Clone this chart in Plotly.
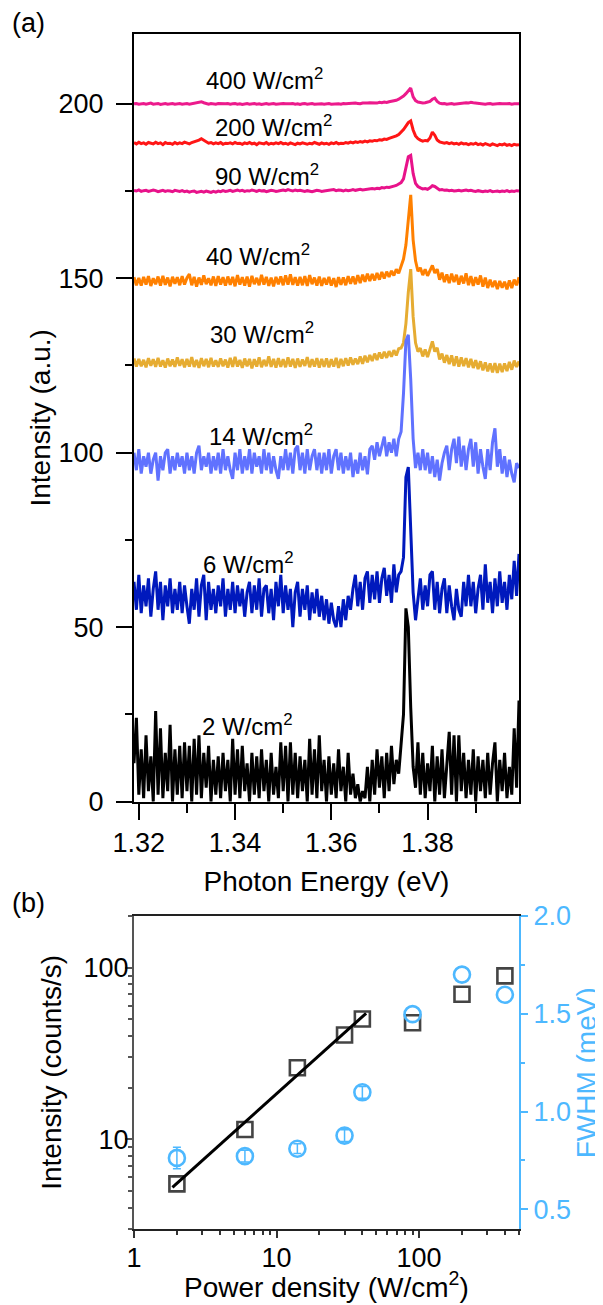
import numpy as np
import plotly.graph_objects as go

# ---------------- (a) PL spectra ----------------
# photon-energy sampling grid of the spectra (eV)
energy = np.linspace(1.319, 1.399, 161)

spec_400 = [
    200.0, 200.1, 199.9, 200.0, 200.1, 199.9, 200.0, 200.2, 199.9, 200.0, 200.1, 199.8, 200.0, 200.1, 199.9, 200.0, 200.1, 199.9, 200.0, 200.1,
    199.9, 200.0, 200.1, 199.9, 200.0, 200.1, 200.2, 200.4, 200.6, 200.3, 200.0, 199.9, 200.1, 200.0, 199.9, 200.1, 200.0, 199.9, 200.0, 200.1,
    199.9, 200.0, 200.1, 199.9, 200.0, 199.8, 200.0, 200.1, 199.9, 200.0, 200.1, 199.9, 200.0, 199.8, 200.0, 200.1, 199.9, 200.0, 200.1, 199.9,
    200.0, 199.9, 200.1, 200.0, 199.9, 200.0, 200.1, 199.9, 200.0, 199.8, 200.0, 200.1, 199.9, 200.0, 200.1, 199.9, 200.0, 200.1, 200.0, 199.9,
    200.0, 200.1, 199.9, 200.0, 200.1, 200.0, 199.9, 200.1, 200.0, 200.1, 200.0, 200.1, 200.2, 200.1, 200.0, 200.2, 200.1, 200.2, 200.3, 200.2,
    200.3, 200.2, 200.4, 200.3, 200.5, 200.4, 200.6, 200.7, 200.8, 201.0, 201.3, 201.7, 202.2, 202.9, 203.7, 204.5, 202.0, 200.9, 200.5, 200.3,
    200.2, 200.3, 200.4, 200.7, 201.3, 201.6, 200.7, 200.2, 200.0, 200.1, 199.9, 200.0, 200.1, 199.9, 200.0, 200.1, 200.2, 200.1, 200.3, 200.2,
    200.4, 200.3, 200.2, 200.1, 200.0, 200.1, 199.9, 200.0, 200.1, 199.9, 200.0, 199.9, 200.1, 200.0, 199.9, 200.0, 200.1, 199.9, 200.0, 199.9,
    200.0]

spec_200 = [
    188.9, 188.5, 189.0, 188.6, 188.8, 188.4, 188.9, 188.7, 188.5, 189.0, 188.6, 188.8, 188.3, 188.9, 188.6, 188.7, 188.4, 188.9, 188.5, 188.8,
    188.6, 189.0, 188.7, 188.5, 188.9, 189.1, 189.3, 189.6, 190.0, 189.5, 189.0, 188.7, 188.9, 188.5, 188.8, 188.6, 188.9, 188.4, 188.7, 188.6,
    188.8, 188.5, 188.9, 188.6, 188.7, 188.4, 188.8, 188.6, 188.9, 188.5, 188.7, 188.3, 188.8, 188.6, 188.5, 188.9, 188.4, 188.7, 188.5, 188.8,
    188.6, 188.9, 188.5, 188.7, 188.4, 188.8, 188.6, 188.3, 188.7, 188.5, 188.8, 188.6, 188.4, 188.7, 188.5, 188.9, 188.6, 188.4, 188.8, 188.5,
    188.7, 188.4, 188.8, 188.6, 188.9, 188.5, 188.7, 188.6, 188.9, 188.7, 189.0, 188.8, 189.1, 188.9, 189.2, 189.0, 189.3, 189.1, 189.4, 189.3,
    189.5, 189.4, 189.7, 189.6, 189.9, 189.8, 190.1, 190.3, 190.5, 190.8, 191.2, 191.8, 192.6, 193.6, 194.6, 195.1, 192.5, 190.8, 190.0, 189.6,
    189.3, 189.5, 189.4, 190.2, 191.9, 191.0, 189.6, 189.1, 188.9, 188.7, 188.9, 188.6, 188.8, 188.5, 188.7, 188.4, 188.8, 188.5, 188.6, 188.3,
    188.6, 188.4, 188.7, 188.3, 188.5, 188.2, 188.6, 188.4, 188.1, 188.5, 188.3, 188.0, 188.4, 188.2, 188.5, 188.1, 188.3, 188.0, 188.4, 188.2,
    188.3]

spec_90 = [
    175.2, 175.0, 175.3, 174.9, 175.1, 175.2, 174.9, 175.0, 175.3, 175.1, 174.8, 175.0, 175.2, 174.9, 175.1, 175.0, 174.8, 175.2, 175.0, 174.9,
    175.1, 174.8, 175.0, 174.7, 174.9, 175.0, 174.6, 174.8, 174.9, 174.7, 175.0, 174.8, 174.6, 174.9, 174.7, 175.0, 174.8, 175.1, 174.9, 175.0,
    175.2, 174.9, 175.1, 175.3, 175.0, 175.2, 174.9, 175.1, 175.0, 175.3, 175.1, 174.9, 175.2, 175.0, 175.1, 174.8, 175.0, 175.2, 175.1, 174.9,
    175.0, 175.2, 175.3, 175.1, 175.4, 175.2, 175.0, 175.3, 175.1, 175.2, 175.0, 174.9, 175.1, 175.0, 174.8, 175.0, 175.2, 175.1, 174.9, 175.0,
    175.1, 175.3, 175.2, 175.4, 175.1, 175.3, 175.2, 175.0, 175.3, 175.1, 175.2, 175.4, 175.2, 175.3, 175.5, 175.3, 175.4, 175.6, 175.5, 175.7,
    175.6, 175.8, 175.7, 176.0, 175.9, 176.1, 176.0, 176.3, 176.4, 176.6, 176.9, 177.4, 178.5, 181.5, 184.8, 185.2, 180.0, 177.2, 176.3, 175.9,
    175.6, 175.7, 175.5, 175.9, 176.5, 176.3, 175.7, 175.3, 175.4, 175.2, 175.3, 175.1, 175.2, 175.0, 175.1, 175.2, 175.0, 175.1, 175.3, 175.1,
    175.2, 175.0, 174.9, 175.1, 175.0, 174.8, 175.0, 174.9, 175.1, 174.8, 174.9, 175.0, 174.8, 175.0, 174.9, 175.1, 174.8, 175.0, 174.9, 175.1,
    175.0]

spec_40 = [
    150.3, 148.0, 150.1, 147.9, 150.4, 148.2, 150.6, 147.8, 150.0, 148.3, 150.5, 147.9, 150.7, 148.1, 150.2, 147.7, 150.4, 148.4, 150.3, 148.0,
    150.6, 148.2, 150.1, 151.2, 148.0, 150.4, 147.6, 150.2, 148.1, 150.8, 148.3, 150.0, 148.0, 150.5, 147.8, 150.6, 148.2, 150.3, 147.9, 150.5,
    148.1, 150.4, 147.7, 150.9, 148.2, 150.3, 147.9, 150.5, 147.6, 150.7, 148.3, 150.1, 148.0, 151.0, 148.2, 150.4, 147.8, 150.2, 147.7, 150.4,
    148.3, 150.5, 148.0, 150.8, 148.2, 151.1, 148.1, 150.3, 147.9, 150.4, 148.0, 150.6, 147.8, 150.9, 148.3, 150.2, 147.9, 150.5, 147.8, 150.1,
    148.2, 150.4, 147.9, 150.0, 147.5, 150.3, 148.1, 150.2, 148.0, 150.6, 148.4, 150.5, 148.3, 150.9, 148.6, 151.0, 149.0, 151.3, 149.2, 151.2,
    149.4, 151.5, 149.6, 151.8, 149.9, 151.9, 150.4, 152.1, 150.8, 152.6, 151.4, 153.2, 155.5, 159.5, 168.0, 173.9, 161.0, 155.0, 152.0, 153.0,
    150.9, 152.6, 150.7, 152.4, 153.7, 151.5, 152.6, 149.6, 151.6, 148.9, 151.1, 148.6, 151.3, 148.9, 151.0, 148.2, 150.7, 148.5, 151.4, 148.0,
    150.6, 147.8, 150.3, 148.2, 150.8, 147.6, 150.2, 147.2, 149.6, 147.5, 149.3, 146.9, 149.2, 147.3, 149.0, 146.8, 149.4, 147.2, 149.6, 148.0,
    150.3]

spec_30 = [
    127.0, 124.7, 126.9, 124.8, 126.6, 124.5, 127.1, 124.9, 126.8, 124.6, 127.2, 124.7, 126.5, 124.4, 127.0, 124.8, 126.7, 124.6, 127.3, 124.9,
    126.8, 124.5, 126.9, 124.7, 127.4, 124.6, 126.6, 124.3, 127.1, 124.8, 126.9, 124.5, 127.2, 124.7, 126.5, 124.6, 127.0, 124.8, 126.7, 124.4,
    127.2, 124.6, 127.5, 124.7, 126.6, 124.3, 127.0, 124.8, 126.9, 124.2, 126.8, 124.7, 127.3, 124.5, 126.6, 124.8, 127.6, 124.6, 126.9, 124.4,
    127.1, 124.6, 126.8, 124.5, 127.3, 124.7, 126.9, 124.3, 127.0, 124.6, 126.7, 124.9, 127.4, 124.5, 126.8, 124.7, 127.1, 124.4, 126.9, 124.6,
    127.0, 124.5, 126.8, 124.7, 127.2, 124.3, 126.9, 124.8, 127.1, 125.0, 127.3, 125.2, 127.0, 125.4, 127.6, 125.5, 127.8, 125.9, 128.0, 126.3,
    128.4, 126.6, 128.7, 127.0, 128.9, 127.2, 129.1, 127.5, 129.4, 127.9, 129.8, 130.0, 131.5, 137.0, 146.0, 152.6, 139.0, 131.5, 129.0, 130.0,
    127.6, 129.6, 127.4, 129.5, 131.9, 129.0, 130.1, 126.7, 128.4, 125.8, 128.0, 125.4, 127.9, 124.9, 127.6, 124.7, 127.3, 124.8, 127.1, 124.5,
    126.9, 124.3, 126.5, 124.0, 126.2, 123.6, 125.9, 123.3, 125.6, 123.0, 125.7, 122.9, 125.5, 123.1, 125.6, 123.4, 126.0, 123.8, 126.4, 124.6,
    126.2]

spec_14 = [
    100, 95, 101, 94, 99, 96, 100, 94, 98, 100, 92, 99, 95, 100, 101, 94, 99, 95, 100, 96,
    99, 94, 100, 95, 99, 94, 100, 102, 95, 99, 96, 100, 94, 99, 95, 100, 94, 101, 95, 99,
    95, 92.5, 100, 95, 101, 94, 99, 95, 101, 94, 100, 96, 99, 94, 101, 95, 100, 94, 99, 95,
    92.5, 99, 95, 101, 95, 100, 94, 101, 102, 95, 100, 94, 101, 95, 99, 101, 95, 100, 94, 100,
    95, 101, 94, 99, 101, 95, 100, 94, 99, 95, 100, 93, 98, 94, 100, 95, 99, 93.8, 101, 102,
    98, 103, 99, 102, 104.6, 99, 103, 100, 104, 99, 104, 106, 117, 132, 133.8, 121, 104, 95.6, 100, 95,
    101, 95, 100, 94, 99, 93, 98, 92, 97, 100, 102, 95, 101, 104, 97, 104.6, 96, 102, 95, 101,
    104, 96, 103, 94, 101, 96, 92.5, 101, 95, 103, 107, 96, 101, 94, 99, 93, 98, 94, 91.5, 97,
    95.6]

spec_6 = [
    63, 55, 65, 54, 62, 56, 64, 53, 61, 66, 55, 63, 52, 62, 56, 64, 54, 61, 55, 63,
    54, 62, 56, 51, 61, 55, 64, 53, 62, 65, 52, 63, 55, 61, 54, 62, 56, 64, 53, 61,
    55, 63, 54, 62, 56, 61, 53, 60, 63, 54, 62, 55, 64, 53, 61, 62, 54, 61, 52, 63,
    56, 65, 54, 62, 55, 61, 50, 60, 63, 53, 61, 55, 62, 52, 60, 54, 61, 53, 59, 52,
    58, 51, 57, 52, 50, 56, 50, 58, 52, 59, 55, 61, 65, 56, 63, 55, 64, 66, 57, 65,
    58, 66, 57, 64, 67, 59, 65, 57, 68, 60, 65, 66, 70, 93, 95.9, 78, 60, 52, 59, 64,
    55, 62, 56, 65, 66, 55, 63, 54, 61, 64, 54, 62, 56, 52, 61, 55, 53, 63, 56, 65,
    56, 63, 54, 61, 65, 55, 68, 57, 63, 54, 64, 56, 66, 57, 63, 55, 65, 58, 69, 59,
    71]

spec_2 = [
    11, 24, 2, 15, 1, 19, 3, 13, 0, 26, 2, 21, 1, 14, 3, 22, 0, 15, 2, 16,
    1, 17, 3, 16, 0, 18, 2, 19, 1, 14, 4, 16, 0, 12, 2, 13, 1, 14, 3, 12,
    0, 18, 2, 15, 1, 16, 3, 11, 0, 14, 2, 13, 1, 15, 3, 12, 0, 14, 2, 10,
    1, 17, 3, 16, 0, 17, 2, 14, 1, 13, 3, 12, 0, 18, 2, 15, 1, 19, 3, 12,
    0, 13, 2, 11, 1, 15, 3, 10, 0, 14, 2, 8, 1, 5, 0, 3, 1, 10, 0, 12,
    2, 15, 4, 13, 1, 14, 3, 16, 5, 12, 8, 17, 25, 55.4, 50, 27, 10, 4, 17, 2,
    14, 1, 11, 3, 16, 0, 13, 2, 15, 1, 11, 20, 2, 19, 0, 19, 3, 14, 1, 12,
    2, 15, 0, 13, 3, 12, 1, 14, 2, 11, 17, 0, 12, 3, 14, 1, 10, 2, 21, 4,
    29]

spectra_labels = ["400", "200", "90", "40", "30", "14", "6", "2"]
spectra = [spec_400, spec_200, spec_90, spec_40, spec_30, spec_14, spec_6, spec_2]
spectra_colors = ["#ec1a8c", "#ff1616", "#e8128a", "#ff8000", "#e6ac32", "#6072ff", "#0019bd", "#000000"]
label_x = [1.3462, 1.3479, 1.3467, 1.3448, 1.3455, 1.3453, 1.3428, 1.3425]
label_y = [207.0, 193.6, 179.6, 156.8, 134.4, 105.2, 68.4, 22.0]

# ---------------- (b) power dependence ----------------
power = [2, 6, 14, 30, 40, 90, 200, 400]
intensity = [5.5, 11.4, 26.1, 40.5, 50.2, 47.8, 70.0, 89.6]
fwhm = [0.763, 0.772, 0.81, 0.877, 1.098, 1.497, 1.699, 1.596]
fwhm_err = [0.055, 0.03, 0.025, 0.03, 0.03, None, None, None]   # None: bar hidden inside marker
fit_x = [1.86, 42.5]
fit_y = [5.25, 54.2]

for s in spectra:
    assert len(s) == len(energy), len(s)

FONT = "Liberation Sans, Arial, Helvetica, sans-serif"
BLUE = "#4db8ff"

fig = go.Figure()
for lab, ys, col in zip(spectra_labels, spectra, spectra_colors):
    fig.add_trace(go.Scatter(x=energy, y=ys, mode="lines", name=lab + " W/cm2",
                             line=dict(color=col, width=3), xaxis="x", yaxis="y",
                             showlegend=False))

fig.add_trace(go.Scatter(x=power, y=intensity, mode="markers", xaxis="x2", yaxis="y2",
                         marker=dict(symbol="square-open", size=15, color="#444444",
                                     line=dict(width=2.6, color="#444444")),
                         showlegend=False))
fig.add_trace(go.Scatter(x=fit_x, y=fit_y, mode="lines", xaxis="x2", yaxis="y2",
                         line=dict(color="black", width=3), showlegend=False))

# error bars only for the points that have a visible one
has_err = [e is not None for e in fwhm_err]
fig.add_trace(go.Scatter(x=[p for p, m in zip(power, has_err) if m],
                         y=[f for f, m in zip(fwhm, has_err) if m],
                         mode="markers", xaxis="x2", yaxis="y3",
                         error_y=dict(type="data", array=[e for e in fwhm_err if e is not None],
                                      color=BLUE, thickness=1.5, width=4),
                         marker=dict(size=1, color="rgba(0,0,0,0)"),
                         showlegend=False, hoverinfo="skip"))
fig.add_trace(go.Scatter(x=power, y=fwhm, mode="markers", xaxis="x2", yaxis="y3",
                         marker=dict(symbol="circle-open", size=16, color=BLUE,
                                     line=dict(width=2.6, color=BLUE)),
                         showlegend=False))

tickfont = dict(family=FONT, size=27, color="black")
titlefont = dict(family=FONT, size=28, color="black")

annotations = []
for lab, lx, ly in zip(spectra_labels, label_x, label_y):
    annotations.append(dict(x=lx, y=ly, xref="x", yref="y", showarrow=False,
                            text=lab + " W/cm<sup>2</sup>",
                            font=dict(family=FONT, size=24, color="black"),
                            xanchor="center", yanchor="middle"))
annotations.append(dict(x=-0.322, y=1.0095, xref="paper", yref="paper", showarrow=False,
                        text="(a)", font=dict(family=FONT, size=27, color="black"),
                        xanchor="left", yanchor="middle"))
annotations.append(dict(x=-0.322, y=0.2728, xref="paper", yref="paper", showarrow=False,
                        text="(b)", font=dict(family=FONT, size=27, color="black"),
                        xanchor="left", yanchor="middle"))
# axis titles of panel (b)
annotations.append(dict(x=0.5, y=-0.0469, xref="paper", yref="paper", showarrow=False,
                        text="Power density (W/cm<sup>2</sup>)", font=titlefont,
                        xanchor="center", yanchor="middle"))
annotations.append(dict(x=1.174, y=0.1311, xref="paper", yref="paper", showarrow=False,
                        text="FWHM (meV)", textangle=-90,
                        font=dict(family=FONT, size=28, color=BLUE),
                        xanchor="center", yanchor="middle"))

# the page body has an 8 px default margin, so the figure is drawn 8 px smaller
fig.update_layout(
    width=595, height=1297,
    margin=dict(l=126, r=84, t=26, b=76),
    paper_bgcolor="white", plot_bgcolor="white",
    font=dict(family=FONT, color="black"),
    annotations=annotations,
    xaxis=dict(domain=[0, 1], anchor="y", range=[1.319, 1.399],
               tickvals=[1.32, 1.34, 1.36, 1.38], ticktext=["1.32", "1.34", "1.36", "1.38"],
               ticks="outside", ticklen=16, tickwidth=2, tickcolor="black",
               minor=dict(dtick=0.01, tick0=1.32, ticks="outside", ticklen=9, tickwidth=2, tickcolor="black"),
               showline=True, linecolor="black", linewidth=2, mirror=True,
               showgrid=False, zeroline=False, tickfont=tickfont,
               title=dict(text="Photon Energy (eV)", font=titlefont, standoff=14)),
    yaxis=dict(domain=[0.3576, 1], anchor="x", range=[0, 220],
               tickvals=[0, 50, 100, 150, 200],
               ticks="outside", ticklen=16, tickwidth=2, tickcolor="black",
               ticklabelstandoff=7,
               minor=dict(dtick=25, tick0=0, ticks="outside", ticklen=7, tickwidth=2, tickcolor="black"),
               showline=True, linecolor="black", linewidth=2, mirror=True,
               showgrid=False, zeroline=False, tickfont=tickfont,
               title=dict(text="Intensity (a.u.)", font=titlefont, standoff=0)),
    xaxis2=dict(domain=[0, 1], anchor="y2", type="log", range=[0, 2.701],
                tickvals=[1, 10, 100], ticktext=["1", "10", "100"],
                ticks="outside", ticklen=7, tickwidth=2, tickcolor="#333333",
                ticklabelstandoff=-3,
                minor=dict(tickvals=[2, 3, 4, 5, 6, 7, 8, 9, 20, 30, 40, 50, 60, 70, 80, 90, 200, 300, 400, 500],
                           ticks="outside", ticklen=4, tickwidth=1.5, tickcolor="#333333"),
                showline=True, linecolor="#222222", linewidth=2, mirror=True,
                showgrid=False, zeroline=False, tickfont=tickfont),
    yaxis2=dict(domain=[0, 0.2622], anchor="x2", type="log", range=[np.log10(3), 2.303],
                tickvals=[10, 100], ticktext=["10", "100"],
                ticks="outside", ticklen=7, tickwidth=2, tickcolor="#555555",
                ticklabelstandoff=-9,
                minor=dict(tickvals=[3, 4, 5, 6, 7, 8, 9, 20, 30, 40, 50, 60, 70, 80, 90, 200],
                           ticks="outside", ticklen=4, tickwidth=1.5, tickcolor="#555555"),
                showline=True, linecolor="#555555", linewidth=2, mirror=False,
                showgrid=False, zeroline=False, tickfont=tickfont,
                title=dict(text="Intensity (counts/s)", font=titlefont, standoff=14)),
    yaxis3=dict(overlaying="y2", anchor="x2", side="right", range=[0.4, 2.0],
                tickvals=[0.5, 1.0, 1.5, 2.0], ticktext=["0.5", "1.0", "1.5", "2.0"],
                ticks="outside", ticklen=7, tickwidth=2, tickcolor=BLUE,
                minor=dict(dtick=0.25, tick0=0.5, ticks="outside", ticklen=4, tickwidth=1.5, tickcolor=BLUE),
                showline=True, linecolor=BLUE, linewidth=2,
                showgrid=False, zeroline=False,
                tickfont=dict(family=FONT, size=27, color=BLUE)),
)

fig.write_html("out.html")
